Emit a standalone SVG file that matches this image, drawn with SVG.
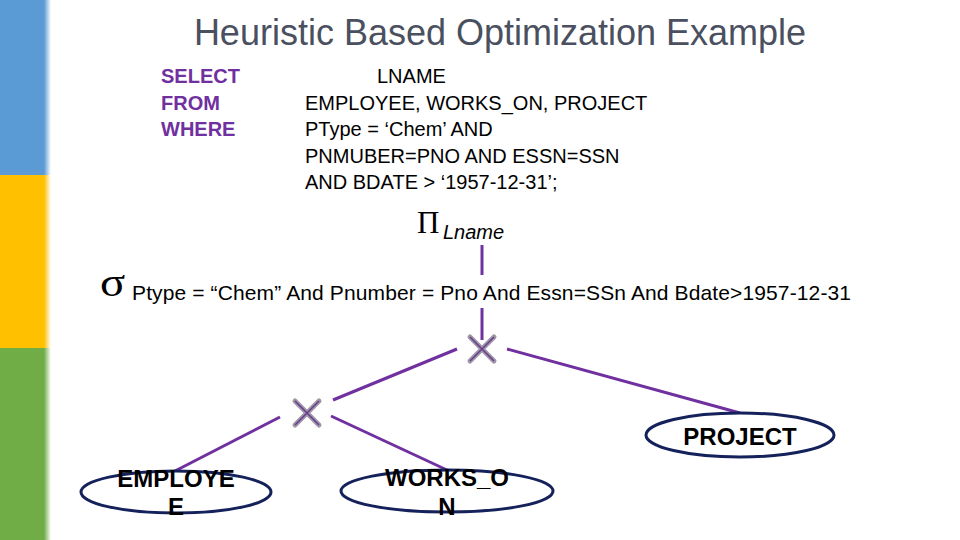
<svg xmlns="http://www.w3.org/2000/svg" width="960" height="540" viewBox="0 0 960 540">
<defs>
<linearGradient id="fb" x1="0" x2="1" y1="0" y2="0"><stop offset="0" stop-color="#5B9BD5"/><stop offset="1" stop-color="#5B9BD5" stop-opacity="0"/></linearGradient>
<linearGradient id="fy" x1="0" x2="1" y1="0" y2="0"><stop offset="0" stop-color="#FFC000"/><stop offset="1" stop-color="#FFC000" stop-opacity="0"/></linearGradient>
<linearGradient id="fg" x1="0" x2="1" y1="0" y2="0"><stop offset="0" stop-color="#70AD47"/><stop offset="1" stop-color="#70AD47" stop-opacity="0"/></linearGradient>
</defs>
<style>
.t{font-family:"Liberation Sans",Arial,sans-serif;fill:#000}
.kw{font-family:"Liberation Sans",Arial,sans-serif;font-weight:bold;fill:#7030A0;font-size:20px}
.sql{font-family:"Liberation Sans",Arial,sans-serif;fill:#000;font-size:20px}
.sym{font-family:"Liberation Serif","Times New Roman",serif;fill:#000}
.edge{stroke:#7030A0;stroke-width:3;fill:none}
.xo{stroke:#9d97a6;stroke-width:5;stroke-linecap:round;fill:none}
.xi{stroke:#6a3a8e;stroke-width:1.5;fill:none}
.rel{fill:#fff;stroke:#14215a;stroke-width:3}
.rt{font-family:"Liberation Sans",Arial,sans-serif;font-weight:bold;font-size:24px;fill:#000;text-anchor:middle}
</style>
<rect width="960" height="540" fill="#fff"/>
<rect x="0" y="0" width="44" height="175" fill="#5B9BD5"/>
<rect x="44" y="0" width="7" height="175" fill="url(#fb)"/>
<rect x="0" y="175" width="44" height="173" fill="#FFC000"/>
<rect x="44" y="175" width="7" height="173" fill="url(#fy)"/>
<rect x="0" y="348" width="44" height="192" fill="#70AD47"/>
<rect x="44" y="348" width="7" height="192" fill="url(#fg)"/>

<text x="500" y="45" text-anchor="middle" font-family="Liberation Sans, Arial, sans-serif" font-size="36" fill="#4a5060">Heuristic Based Optimization Example</text>

<g id="sql">
<text class="kw" x="161" y="83">SELECT</text>
<text class="kw" x="161" y="110">FROM</text>
<text class="kw" x="161" y="136">WHERE</text>
<text class="sql" x="377" y="83">LNAME</text>
<text class="sql" x="305" y="110">EMPLOYEE, WORKS_ON, PROJECT</text>
<text class="sql" x="305" y="136">PType = ‘Chem’ AND</text>
<text class="sql" x="305" y="163">PNMUBER=PNO AND ESSN=SSN</text>
<text class="sql" x="305" y="189">AND BDATE &gt; ‘1957-12-31’;</text>
</g>

<g id="connectors">
<line class="edge" x1="482" y1="245" x2="482" y2="275"/>
<line class="edge" x1="482" y1="308" x2="482" y2="340"/>
<line class="edge" x1="457" y1="349" x2="333" y2="400"/>
<line class="edge" x1="507" y1="349" x2="740" y2="413"/>
<line class="edge" x1="280" y1="417" x2="175" y2="471"/>
<line class="edge" x1="331" y1="416" x2="447" y2="470"/>
</g>

<g id="project">
<text class="sym" x="417" y="233" font-size="31">Π</text>
<text class="t" x="443" y="239" font-size="20" font-style="italic">Lname</text>
</g>

<g id="select">
<text class="sym" transform="translate(100,296) scale(1.3,1.1)" font-size="36">σ</text>
<text class="t" x="132" y="300" font-size="21" textLength="719" lengthAdjust="spacing">Ptype = “Chem” And Pnumber = Pno And Essn=SSn And Bdate&gt;1957-12-31</text>
</g>

<g id="join1">
<path class="xo" d="M470 337 L494 361 M494 337 L470 361"/>
<path class="xi" d="M470 337 L494 361 M494 337 L470 361"/>
</g>
<g id="join2">
<path class="xo" d="M295 401 L319 425 M319 401 L295 425"/>
<path class="xi" d="M295 401 L319 425 M319 401 L295 425"/>
</g>

<g id="rel-project">
<ellipse class="rel" cx="740" cy="435" rx="94" ry="22"/>
<text class="rt" x="740" y="445">PROJECT</text>
</g>
<g id="rel-employee">
<ellipse class="rel" cx="176" cy="492" rx="95" ry="21"/>
<text class="rt" x="176" y="487">EMPLOYE</text>
<text class="rt" x="176" y="515">E</text>
</g>
<g id="rel-workson">
<ellipse class="rel" cx="447" cy="491" rx="106" ry="21"/>
<text class="rt" x="447" y="486">WORKS_O</text>
<text class="rt" x="447" y="515">N</text>
</g>
</svg>
